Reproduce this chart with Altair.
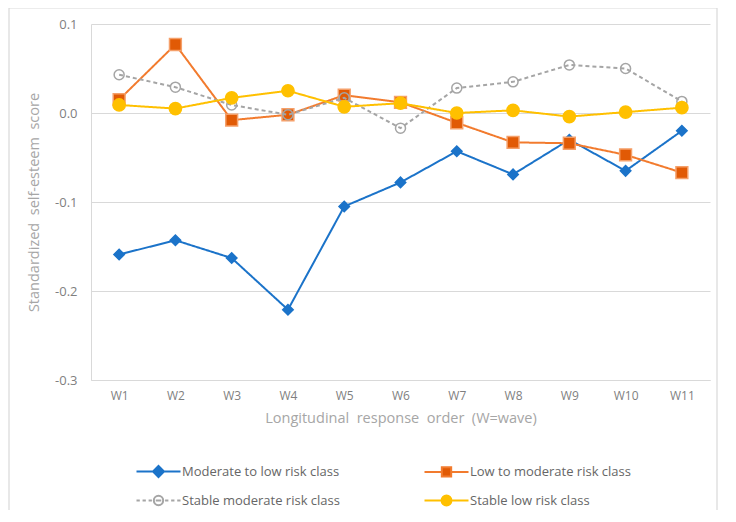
import altair as alt
import pandas as pd

waves = ["W1", "W2", "W3", "W4", "W5", "W6", "W7", "W8", "W9", "W10", "W11"]
series_names = [
    "Moderate to low risk class",
    "Low to moderate risk class",
    "Stable moderate risk class",
    "Stable low risk class",
]
moderate_to_low = [-0.159, -0.143, -0.163, -0.221, -0.105, -0.078, -0.043, -0.069, -0.030, -0.065, -0.020]
low_to_moderate = [0.015, 0.077, -0.008, -0.002, 0.020, 0.012, -0.011, -0.033, -0.034, -0.047, -0.067]
stable_moderate = [0.043, 0.029, 0.009, -0.002, 0.017, -0.017, 0.028, 0.035, 0.054, 0.050, 0.013]
stable_low = [0.009, 0.005, 0.017, 0.025, 0.007, 0.011, 0.000, 0.003, -0.004, 0.001, 0.006]
y_ticks = [-0.3, -0.2, -0.1, 0.0, 0.1]

all_values = [moderate_to_low, low_to_moderate, stable_moderate, stable_low]
rows = []
for name, vals in zip(series_names, all_values):
    for w, v in zip(waves, vals):
        rows.append({"series": name, "wave": w, "value": v})
df = pd.DataFrame(rows)

FONT = "Open Sans"
line_colors = ["#1b73c9", "#f27b2e", "#a5a5a5", "#ffc000"]
marker_fill = ["#1b73c9", "#e15a05", "transparent", "#ffc000"]
marker_stroke = ["#1b73c9", "#f5a06a", "#a5a5a5", "#ffc000"]
marker_shape = ["diamond", "square", "circle", "circle"]
marker_size = [110, 140, 100, 150]
dashes = [[1, 0], [1, 0], [4, 3], [1, 0]]

legend_paths = [
    "M-4,0H-1M0,-1L1,0L0,1L-1,0ZM1,0H4",
    "M-4,0H-0.85M-0.85,-0.85H0.85V0.85H-0.85ZM0.85,0H4",
    "M-4,0H-3.4M-2.9,0H-2.3M-1.8,0H-1.2M-0.5,0H0.5M1.2,0H1.8M2.3,0H2.9M3.4,0H4"
    "M0.85,0A0.85,0.85 0 1,1 -0.85,0A0.85,0.85 0 1,1 0.85,0",
    "M-4,0H-0.9M0.9,0A0.9,0.9 0 1,1 -0.9,0A0.9,0.9 0 1,1 0.9,0M0.9,0H4",
]
legend_stroke = ["#1b73c9", "#f27b2e", "#a5a5a5", "#ffc000"]
legend_fill = ["#1b73c9", "#e15a05", "transparent", "#ffc000"]

x_enc = alt.X(
    "wave:O",
    sort=waves,
    scale=alt.Scale(domain=waves, padding=0.5),
    axis=alt.Axis(
        title="Longitudinal \u00a0response \u00a0order \u00a0(W=wave)",
        labelAngle=0,
        labelFont=FONT,
        labelFontSize=12,
        labelColor="#7f7f7f",
        labelPadding=10,
        ticks=False,
        domain=True,
        domainColor="#d9d9d9",
        titleFont=FONT,
        titleFontSize=14.5,
        titleFontWeight="normal",
        titleColor="#a6a6a6",
        titlePadding=10,
    ),
)
y_enc = alt.Y(
    "value:Q",
    scale=alt.Scale(domain=[-0.3, 0.1], nice=False, zero=False),
    axis=alt.Axis(
        title="Standardized \u00a0self-esteem \u00a0score",
        values=y_ticks,
        format=".1f",
        labelExpr="replace(datum.label, '\u2212', '-')",
        labelFont=FONT,
        labelFontSize=13,
        labelColor="#7f7f7f",
        labelPadding=14,
        ticks=False,
        domain=True,
        domainColor="#d9d9d9",
        grid=True,
        gridColor="#d9d9d9",
        gridWidth=1.2,
        titleFont=FONT,
        titleFontSize=14.5,
        titleFontWeight="normal",
        titleColor="#a6a6a6",
        titleX=-50,
        titleY=178,
    ),
)

base = alt.Chart(df)

frame = alt.Chart(alt.Data(values=[{}])).mark_rect(
    fill="transparent", stroke="#d9d9d9", strokeWidth=1.2
).encode(
    x=alt.value(-82), x2=alt.value(626), y=alt.value(-16), y2=alt.value(491)
)

layers = [frame]
for i, name in enumerate(series_names):
    sub = base.transform_filter(alt.datum.series == name)
    layers.append(
        sub.mark_line(color=line_colors[i], strokeWidth=2, strokeDash=dashes[i]).encode(x=x_enc, y=y_enc)
    )
    layers.append(
        sub.mark_point(
            shape=marker_shape[i],
            filled=False,
            fill=marker_fill[i],
            stroke=marker_stroke[i],
            strokeWidth=1.5,
            size=marker_size[i],
            opacity=1,
        ).encode(x=x_enc, y=y_enc)
    )

legend = alt.Legend(
    title=None,
    orient="none",
    direction="horizontal",
    legendX=44,
    legendY=441,
    columns=2,
    columnPadding=80,
    rowPadding=10,
    symbolSize=121,
    symbolStrokeWidth=2,
    symbolOffset=17,
    symbolOpacity=1,
    labelOffset=17,
    labelFont=FONT,
    labelFontSize=13,
    labelColor="#666666",
    labelLimit=300,
)

# legend-only layer: no marks drawn (filtered out); legend comes from explicit scale domains
legend_layer = base.transform_filter("false").mark_point(filled=True).encode(
    x=x_enc,
    y=y_enc,
    shape=alt.Shape("series:N", sort=series_names, scale=alt.Scale(domain=series_names, range=legend_paths), legend=legend),
    stroke=alt.Stroke("series:N", sort=series_names, scale=alt.Scale(domain=series_names, range=legend_stroke), legend=legend),
    fill=alt.Fill("series:N", sort=series_names, scale=alt.Scale(domain=series_names, range=legend_fill), legend=legend),
)
layers.append(legend_layer)

chart = alt.layer(*layers).properties(
    width=619,
    height=356,
    autosize=alt.AutoSizeParams(type="none"),
    padding={"left": 83, "top": 16, "right": 12, "bottom": 130},
).configure_view(stroke=None)

chart.save("out.html", embed_options={"renderer": "svg", "actions": False})
